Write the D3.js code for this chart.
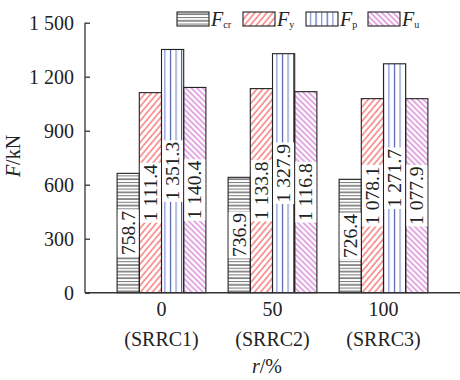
<!DOCTYPE html>
<html>
<head>
<meta charset="utf-8">
<script src="https://cdn.jsdelivr.net/npm/d3@7"></script>
<style>
  body { margin: 0; background: #fff; }
</style>
</head>
<body>
<div id="chart"></div>
<script>
// groups on the x axis
const ratios = ["0", "50", "100"];
const specimens = ["(SRRC1)", "(SRRC2)", "(SRRC3)"];
const seriesKeys = ["cr", "y", "p", "u"];

// value labels printed on the bars (kN)
const fcr = [758.7, 736.9, 726.4];
const fy = [1111.4, 1133.8, 1078.1];
const fp = [1351.3, 1327.9, 1271.7];
const fu = [1140.4, 1116.8, 1077.9];
// the F_cr bars are drawn lower than their labels in the figure
const fcrBar = [663, 641, 630];

const yTicks = [0, 300, 600, 900, 1200, 1500];

const width = 460, height = 380;
const x0 = 85, xEnd = 460;
const FONT = '"Liberation Serif", "Times New Roman", serif';

const svg = d3.select("#chart").append("svg")
  .attr("width", width).attr("height", height)
  .style("font-family", FONT);

// patterns
const defs = svg.append("defs");

const pCr = defs.append("pattern").attr("id", "p-cr")
  .attr("patternUnits", "userSpaceOnUse").attr("width", 10).attr("height", 6.6);
pCr.append("line").attr("x1", 0).attr("x2", 10).attr("y1", 1).attr("y2", 1)
  .style("stroke", "#222").style("stroke-width", 1);
pCr.append("line").attr("x1", 0).attr("x2", 10).attr("y1", 4.3).attr("y2", 4.3)
  .style("stroke", "#777").style("stroke-width", 1);

const pY = defs.append("pattern").attr("id", "p-y")
  .attr("patternUnits", "userSpaceOnUse").attr("width", 4.6).attr("height", 10)
  .attr("patternTransform", "rotate(40)");
pY.append("line").attr("x1", 1).attr("x2", 1).attr("y1", 0).attr("y2", 10)
  .style("stroke", "#ee2020").style("stroke-width", 0.9);

const pP = defs.append("pattern").attr("id", "p-p")
  .attr("patternUnits", "userSpaceOnUse").attr("width", 11.2).attr("height", 10);
pP.append("line").attr("x1", 2.5).attr("x2", 2.5).attr("y1", 0).attr("y2", 10)
  .style("stroke", "#2a40a0").style("stroke-width", 1);
pP.append("line").attr("x1", 8.1).attr("x2", 8.1).attr("y1", 0).attr("y2", 10)
  .style("stroke", "#7f90d0").style("stroke-width", 1.2);

const pU = defs.append("pattern").attr("id", "p-u")
  .attr("patternUnits", "userSpaceOnUse").attr("width", 4).attr("height", 10)
  .attr("patternTransform", "rotate(-45)");
pU.append("line").attr("x1", 1).attr("x2", 1).attr("y1", 0).attr("y2", 10)
  .style("stroke", "#c040c0").style("stroke-width", 0.9);

const fills = { cr: "url(#p-cr)", y: "url(#p-y)", p: "url(#p-p)", u: "url(#p-u)" };

// scales
const scaleX = d3.scaleBand().domain(ratios).range([106, 439])
  .paddingInner(0.2).paddingOuter(0.1);
const scaleSub = d3.scaleBand().domain(seriesKeys).range([0, scaleX.bandwidth()]);
const scaleY = d3.scaleLinear().domain([0, 1500]).range([292.7, 22.7]);

// rows of bar data
const rows = [];
ratios.forEach((r, i) => {
  rows.push({ g: r, k: "cr", v: fcrBar[i], label: fcr[i] });
  rows.push({ g: r, k: "y", v: fy[i], label: fy[i] });
  rows.push({ g: r, k: "p", v: fp[i], label: fp[i] });
  rows.push({ g: r, k: "u", v: fu[i], label: fu[i] });
});

const fmt = v => {
  const s = v.toFixed(1);
  const [a, b] = s.split(".");
  return (a.length > 3 ? a.slice(0, a.length - 3) + " " + a.slice(-3) : a) + "." + b;
};

// bars
const bars = svg.append("g");
bars.selectAll("rect").data(rows).join("rect")
  .attr("x", d => scaleX(d.g) + scaleSub(d.k))
  .attr("y", d => scaleY(d.v))
  .attr("width", scaleSub.bandwidth())
  .attr("height", d => scaleY(0) - scaleY(d.v))
  .style("fill", d => fills[d.k])
  .style("stroke", "#222")
  .style("stroke-width", 1.1);

// value labels
const labels = svg.append("g");
rows.forEach(d => {
  const cx = scaleX(d.g) + scaleSub(d.k) + scaleSub.bandwidth() / 2;
  const cy = (scaleY(d.v) + scaleY(0)) / 2;
  const g = labels.append("g").attr("transform", `translate(${cx},${cy}) rotate(-90)`);
  const box = g.append("rect").style("fill", "#fff");
  const t = g.append("text")
    .attr("text-anchor", "middle")
    .attr("dy", "0.33em")
    .style("font-family", FONT)
    .style("font-size", "19.5px")
    .style("fill", "#222")
    .text(fmt(d.label));
  const len = t.node().getComputedTextLength() + 3;
  box.attr("x", -len / 2).attr("y", -scaleSub.bandwidth() / 2 + 0.6)
    .attr("width", len).attr("height", scaleSub.bandwidth() - 1.2);
});

// y axis
const yAxis = d3.axisLeft(scaleY).tickValues(yTicks).tickSize(-5).tickPadding(11)
  .tickFormat(d => d >= 1000 ? Math.floor(d / 1000) + " " + String(d % 1000).padStart(3, "0") : d);
const ya = svg.append("g").attr("transform", `translate(${x0},0)`).call(yAxis)
  .attr("font-family", null);
ya.select(".domain").remove();
ya.selectAll("line").style("stroke", "#333").style("stroke-width", 1.3);
ya.selectAll("text").style("font-size", "20px").style("fill", "#222")
  .style("font-family", FONT);
svg.append("line").attr("x1", x0).attr("x2", x0)
  .attr("y1", scaleY(1500)).attr("y2", scaleY(0))
  .style("stroke", "#333").style("stroke-width", 1.3);

// x axis
svg.append("line").attr("x1", x0).attr("x2", xEnd)
  .attr("y1", scaleY(0)).attr("y2", scaleY(0))
  .style("stroke", "#333").style("stroke-width", 1.5);

const xl = svg.append("g");
ratios.forEach((r, i) => {
  const cx = scaleX(r) + scaleX.bandwidth() / 2;
  xl.append("text").attr("x", cx).attr("y", 316).attr("text-anchor", "middle")
    .style("font-family", FONT).style("fill", "#222").style("font-size", "20px").text(r);
  xl.append("text").attr("x", cx).attr("y", 346).attr("text-anchor", "middle")
    .style("font-family", FONT).style("fill", "#222").style("font-size", "20px").text(specimens[i]);
});

// axis titles
const xt = svg.append("text").attr("x", 267).attr("y", 373).attr("text-anchor", "middle")
  .style("font-family", FONT).style("fill", "#222").style("font-size", "20px");
xt.append("tspan").style("font-style", "italic").text("r");
xt.append("tspan").text("/%");

const yt = svg.append("text")
  .attr("transform", "translate(20,156) rotate(-90)")
  .attr("text-anchor", "middle")
  .style("font-family", FONT).style("fill", "#222").style("font-size", "20px");
yt.append("tspan").style("font-style", "italic").text("F");
yt.append("tspan").text("/kN");

// legend
const legendX = [177, 243, 306, 368];
const leg = svg.append("g");
seriesKeys.forEach((k, i) => {
  leg.append("rect").attr("x", legendX[i]).attr("y", 12)
    .attr("width", 32).attr("height", 14)
    .style("fill", fills[k]).style("stroke", "#222").style("stroke-width", 1.1);
  const t = leg.append("text").attr("x", legendX[i] + 34).attr("y", 26)
    .style("font-family", FONT).style("fill", "#222").style("font-size", "20px");
  t.append("tspan").style("font-style", "italic").text("F");
  t.append("tspan").attr("dy", 2).style("font-size", "10px").text(k);
});
</script>
</body>
</html>
